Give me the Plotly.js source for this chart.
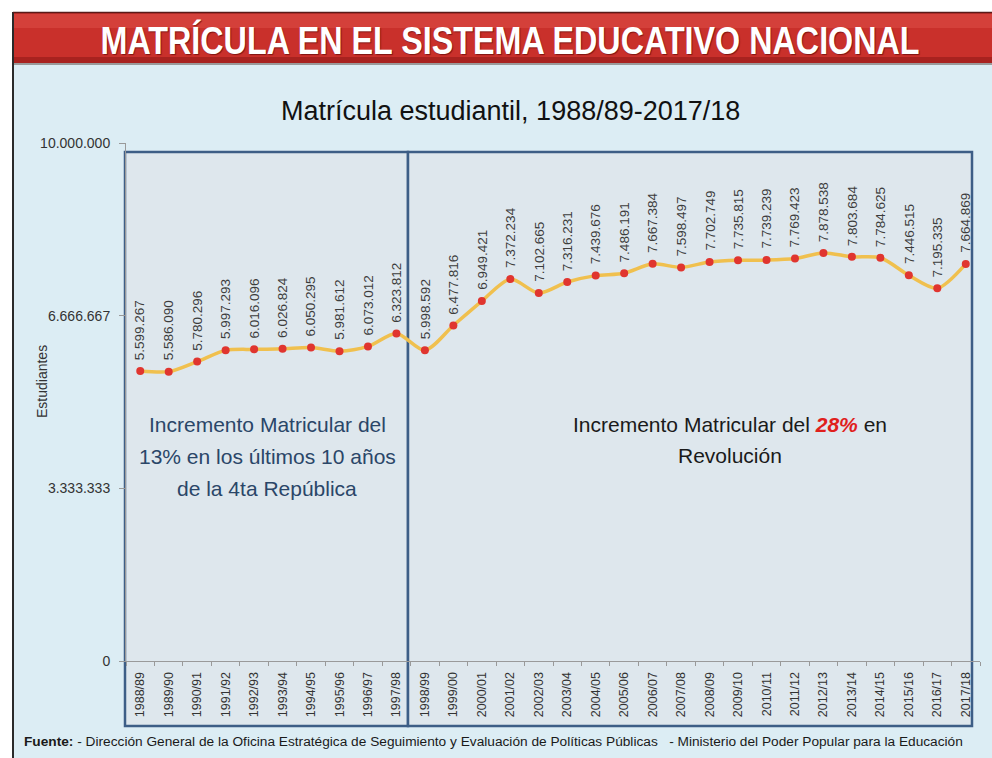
<!DOCTYPE html>
<html>
<head>
<meta charset="utf-8">
<script src="https://cdn.plot.ly/plotly-3.0.1.min.js"></script>
<style>
html,body{margin:0;padding:0;background:#ffffff;}
#chart{width:992px;height:758px;}
</style>
</head>
<body>
<div id="chart"></div>
<script>
const categories = ['1988/89','1989/90','1990/91','1991/92','1992/93','1993/94','1994/95','1995/96','1996/97','1997/98',
  '1998/99','1999/00','2000/01','2001/02','2002/03','2003/04','2004/05','2005/06','2006/07','2007/08',
  '2008/09','2009/10','2010/11','2011/12','2012/13','2013/14','2014/15','2015/16','2016/17','2017/18'];
const matricula = [5599267,5586090,5780296,5997293,6016096,6026824,6050295,5981612,6073012,6323812,
  5998592,6477816,6949421,7372234,7102665,7316231,7439676,7486191,7667384,7598497,
  7702749,7735815,7739239,7769423,7878538,7803684,7784625,7446515,7195335,7664869];
const yTickVals = [0,3333333,6666667,10000000];
const yTickText = ['0','3.333.333','6.666.667','10.000.000'];

const bannerText = 'MATRÍCULA EN EL SISTEMA EDUCATIVO NACIONAL';
const chartTitle = 'Matrícula estudiantil, 1988/89-2017/18';
const yTitle = 'Estudiantes';
const leftNoteLines = ['Incremento Matricular del','13% en los últimos 10 años','de la 4ta República'];
const rightNoteLines = ['Incremento Matricular del <span style="color:#e0201c"><b><i>28%</i></b></span> en','Revolución'];
const footer = '<b>Fuente:</b> - Dirección General de la Oficina Estratégica de Seguimiento y Evaluación de Políticas Públicas   - Ministerio del Poder Popular para la Educación';

function fmt(v){ return String(v).replace(/\B(?=(\d{3})+(?!\d))/g,'.'); }

const L=126, T=143, PW=854, PH=518;
function px(x){return (x-L)/PW;}
function py(y){return (T+PH-y)/PH;}
const FONT = 'Liberation Sans, Arial, sans-serif';

const shapes = [
  {type:'rect',xref:'paper',yref:'paper',x0:px(12),x1:px(1000),y0:py(770),y1:py(62),fillcolor:'#dcedf4',line:{width:0},layer:'below'},
  {type:'line',xref:'paper',yref:'paper',x0:px(13),x1:px(13),y0:py(770),y1:py(12),line:{color:'#2a2a2a',width:2},layer:'below'},
  {type:'rect',xref:'paper',yref:'paper',x0:px(14),x1:px(1000),y0:py(65),y1:py(13),fillcolor:'#9a9a9a',line:{width:0},layer:'below'},
  {type:'rect',xref:'paper',yref:'paper',x0:px(14),x1:px(1000),y0:py(63),y1:py(13),fillcolor:'#c9302b',line:{width:0},layer:'below'},
  {type:'rect',xref:'paper',yref:'paper',x0:px(14),x1:px(1000),y0:py(63),y1:py(57),fillcolor:'#a8221f',line:{width:0},layer:'below'},
  {type:'rect',xref:'paper',yref:'paper',x0:px(14),x1:px(1000),y0:py(28),y1:py(14),fillcolor:'#d4403a',line:{width:0},layer:'below'},
  {type:'line',xref:'paper',yref:'paper',x0:px(13),x1:px(1000),y0:py(12.5),y1:py(12.5),line:{color:'#5a1a18',width:1.5},layer:'below'},
  {type:'rect',xref:'paper',yref:'paper',x0:px(125),x1:px(408),y0:py(726),y1:py(152),fillcolor:'#dee7ed',line:{color:'#3d5e86',width:2.5},layer:'below'},
  {type:'rect',xref:'paper',yref:'paper',x0:px(408),x1:px(972),y0:py(726),y1:py(152),fillcolor:'#dee7ed',line:{color:'#3d5e86',width:2.5},layer:'below'}
];

const annotations = [
  {xref:'paper',yref:'paper',x:px(510),y:py(40),text:bannerText,showarrow:false,xanchor:'center',yanchor:'middle',
   font:{family:FONT,size:38,color:'#ffffff',weight:'bold'}},
  {xref:'paper',yref:'paper',x:px(510),y:py(111),text:chartTitle,showarrow:false,xanchor:'center',yanchor:'middle',
   font:{family:FONT,size:27,color:'#111111'}},
  {xref:'paper',yref:'paper',x:px(42),y:py(382),text:yTitle,showarrow:false,textangle:-90,xanchor:'center',yanchor:'middle',
   font:{family:FONT,size:14,color:'#333333'}},
  {xref:'paper',yref:'paper',x:px(22),y:py(741),text:footer,showarrow:false,xanchor:'left',yanchor:'middle',
   font:{family:FONT,size:13.7,color:'#1a1a1a'}}
];
leftNoteLines.forEach((t,i)=>{
  annotations.push({xref:'paper',yref:'paper',x:px(267),y:py(424+32*i),text:t,showarrow:false,xanchor:'center',yanchor:'middle',
    font:{family:FONT,size:21,color:'#2a4668'}});
});
rightNoteLines.forEach((t,i)=>{
  annotations.push({xref:'paper',yref:'paper',x:px(730),y:py(424+31*i),text:t,showarrow:false,xanchor:'center',yanchor:'middle',
    font:{family:FONT,size:21,color:'#1a1a1a'}});
});
categories.forEach((c,i)=>{
  annotations.push({xref:'x',yref:'y',x:c,y:matricula[i],text:fmt(matricula[i]),showarrow:false,textangle:-90,
    xanchor:'center',yanchor:'bottom',yshift:9,font:{family:FONT,size:13.5,color:'#3c3c3c'}});
});

const traces = [
  {type:'scatter',mode:'lines',x:categories,y:matricula,line:{color:'#f0c04e',width:3.5,shape:'spline',smoothing:0.8},hoverinfo:'skip',cliponaxis:false},
  {type:'scatter',mode:'markers',x:categories,y:matricula,marker:{color:'#e0352f',size:8},hoverinfo:'skip',cliponaxis:false}
];

const layout = {
  width:992,height:758,
  margin:{l:L,r:992-L-PW,t:T,b:758-T-PH,pad:0},
  paper_bgcolor:'#ffffff',plot_bgcolor:'rgba(0,0,0,0)',
  showlegend:false,
  xaxis:{type:'category',range:[-0.5,29.5],tickson:'boundaries',ticks:'outside',ticklen:4,tickcolor:'#999999',
    showline:true,linecolor:'#9a9a9a',linewidth:1,showgrid:false,zeroline:false,tickangle:-90,ticklabelstandoff:5,
    tickfont:{family:FONT,size:12.5,color:'#333333'}},
  yaxis:{range:[0,10000000],tickvals:yTickVals,ticktext:yTickText,ticks:'outside',ticklen:6,tickcolor:'#999999',
    showline:true,linecolor:'#9a9a9a',showgrid:false,zeroline:false,ticklabelstandoff:6,
    tickfont:{family:FONT,size:14,color:'#333333'}},
  shapes:shapes,
  annotations:annotations
};

Plotly.newPlot('chart',traces,layout,{displayModeBar:false,staticPlot:true}).then(gd=>{
  gd.querySelectorAll('.annotation-text').forEach(t=>{
    if(t.textContent===bannerText){
      t.style.transformBox='fill-box';
      t.style.transformOrigin='center';
      t.style.transform='scaleX(0.85)';
      t.style.textShadow='1px 1px 1px rgba(80,0,0,0.6)';
    }
  });
});
</script>
</body>
</html>
